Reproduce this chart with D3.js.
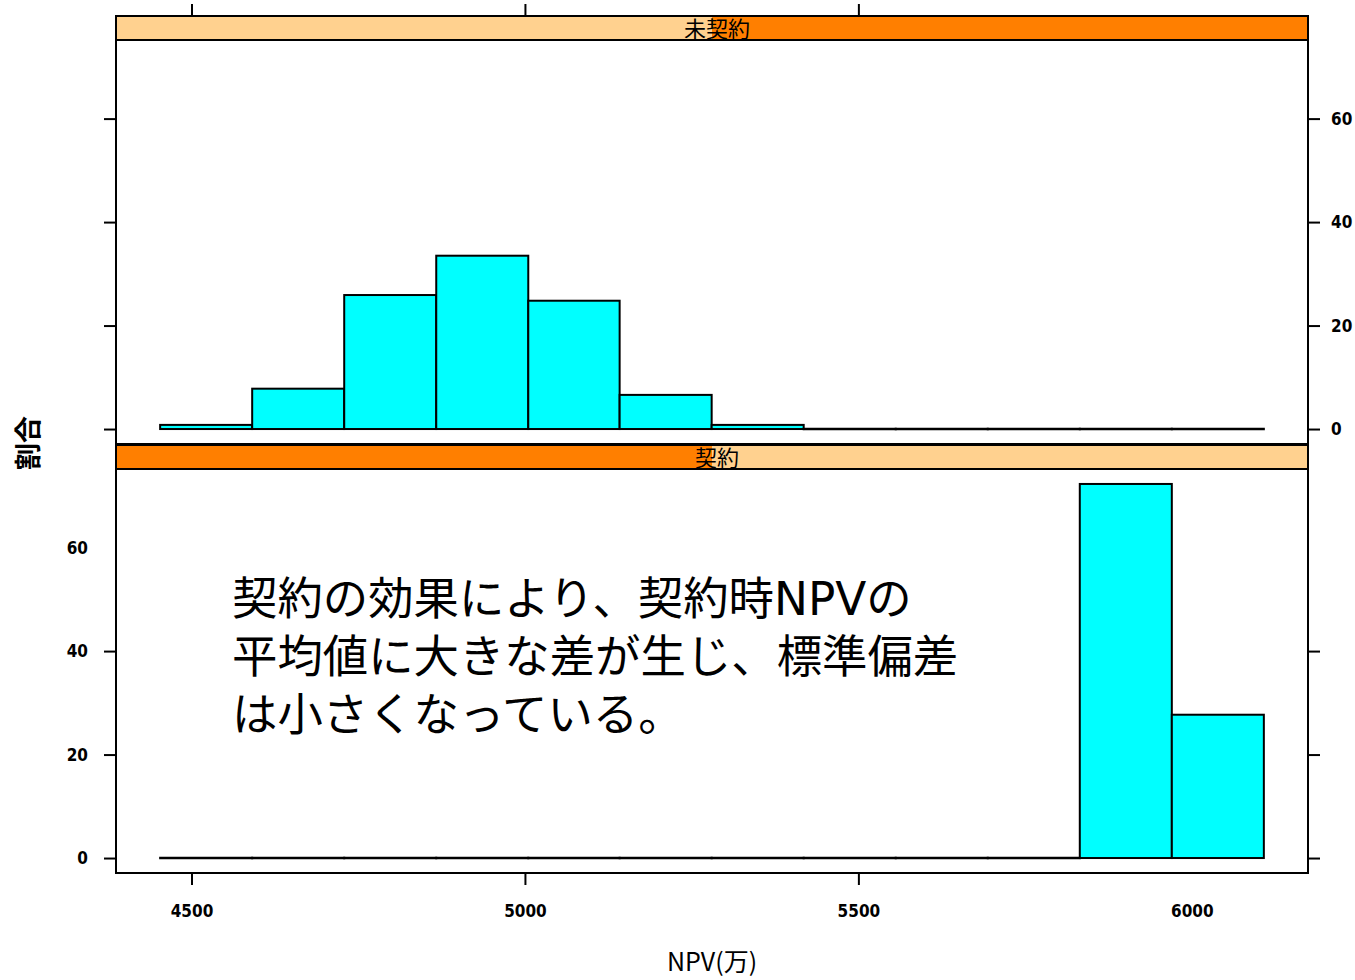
<!DOCTYPE html>
<html>
<head>
<meta charset="utf-8">
<script src="https://cdn.jsdelivr.net/npm/d3@7/dist/d3.min.js"></script>
<style>
  html, body { margin: 0; padding: 0; background: #ffffff; }
  svg { display: block; }
  .tick text { font-family: "DejaVu Sans Condensed", "DejaVu Sans", sans-serif; font-weight: bold; font-stretch: condensed; }
</style>
</head>
<body>
<svg id="chart" width="1355" height="980"></svg>
<script>
// Histogram bin edges (NPV, 万円) shared by both panels
const breaks = [4453, 4591, 4729, 4867, 5005, 5142, 5280, 5418, 5556, 5694, 5832, 5970, 6108];

// Percent of observations per bin
const pctUnsigned = [0.8, 7.8, 25.9, 33.5, 24.8, 6.6, 0.8, 0, 0, 0, 0, 0];   // 未契約
const pctSigned   = [0, 0, 0, 0, 0, 0, 0, 0, 0, 0, 72.3, 27.7];               // 契約

// Panel titles
const panelLabels = ["未契約", "契約"];

// Axis ticks
const xTickLabels = [4500, 5000, 5500, 6000];
const xTickMarks  = [4500, 5000, 5500];
const yTickLabels = [0, 20, 40, 60];
const yTickMarksTop = [0, 20, 40, 60];
const yTickMarksBottom = [0, 20, 40];

// Annotation
const noteLines = [
  "契約の効果により、契約時NPVの",
  "平均値に大きな差が生じ、標準偏差",
  "は小さくなっている。"
];

const svg = d3.select("#chart");
svg.append("rect").attr("width", 1355).attr("height", 980).attr("fill", "#ffffff");

const left = 116, right = 1308;
const stripH = 24;
const panels = [
  { label: panelLabels[0], level: 2, values: pctUnsigned, stripTop: 16, top: 40, bottom: 444 },
  { label: panelLabels[1], level: 1, values: pctSigned,   stripTop: 445, top: 469, bottom: 873 }
];

// x scale: bin range padded by 4%
const xLo = breaks[0], xHi = breaks[breaks.length - 1];
const xPad = (xHi - xLo) * 0.04;
const x = d3.scaleLinear().domain([xLo - xPad, xHi + xPad]).range([left, right]);

// y domain: 0..max padded by 4%
const yMax = d3.max(pctUnsigned.concat(pctSigned));
const yDomain = [-yMax * 0.04, yMax * 1.04];

const bins = breaks.slice(0, -1).map((b, i) => ({ x0: b, x1: breaks[i + 1] }));

const fontCJK = "'Noto Sans CJK JP', 'Noto Sans CJK SC', sans-serif";

panels.forEach((p, pi) => {
  const y = d3.scaleLinear().domain(yDomain).range([p.bottom, p.top]);
  const g = svg.append("g");
  const data = bins.map((b, i) => ({ ...b, v: p.values[i] }));

  // bars with a positive count
  g.selectAll("rect.bar")
    .data(data.filter(d => d.v > 0))
    .join("rect")
    .attr("class", "bar")
    .attr("x", d => x(d.x0))
    .attr("width", d => x(d.x1) - x(d.x0))
    .attr("y", d => y(d.v))
    .attr("height", d => y(0) - y(d.v))
    .attr("fill", "#00ffff")
    .attr("stroke", "#000000")
    .attr("stroke-width", 2);

  // empty bins collapse to a line on the baseline
  g.selectAll("line.empty")
    .data(data.filter(d => d.v === 0))
    .join("line")
    .attr("class", "empty")
    .attr("x1", d => x(d.x0) - 1)
    .attr("x2", d => x(d.x1) + 1)
    .attr("y1", y(0)).attr("y2", y(0))
    .attr("stroke", "#000")
    .attr("stroke-width", 2.5);

  // panel frame
  g.append("rect")
    .attr("x", left).attr("y", p.top)
    .attr("width", right - left).attr("height", p.bottom - p.top)
    .attr("fill", "none").attr("stroke", "#000").attr("stroke-width", 2);

  // strip: background with level highlighted
  const mid = (left + right) / 2;
  g.append("rect")
    .attr("x", left).attr("y", p.stripTop)
    .attr("width", right - left).attr("height", stripH)
    .attr("fill", "#ffd18f");
  g.append("rect")
    .attr("x", p.level === 1 ? left : mid).attr("y", p.stripTop)
    .attr("width", (right - left) / 2).attr("height", stripH)
    .attr("fill", "#ff7f00");
  g.append("rect")
    .attr("x", left).attr("y", p.stripTop)
    .attr("width", right - left).attr("height", stripH)
    .attr("fill", "none").attr("stroke", "#000").attr("stroke-width", 2);
  g.append("text")
    .attr("x", mid + 5).attr("y", p.stripTop + 21)
    .attr("text-anchor", "middle")
    .attr("font-family", fontCJK)
    .attr("font-size", 22)
    .attr("fill", "#000")
    .text(p.label);

  // y axes
  const marks = pi === 0 ? yTickMarksTop : yTickMarksBottom;
  const yLeft = d3.axisLeft(y).tickValues(yTickLabels).tickSize(12).tickPadding(16)
    .tickFormat(pi === 1 ? d3.format("d") : () => "");
  const yRight = d3.axisRight(y).tickValues(yTickLabels).tickSize(12).tickPadding(11)
    .tickFormat(pi === 0 ? d3.format("d") : () => "");
  [[yLeft, left], [yRight, right]].forEach(([ax, xp]) => {
    const a = g.append("g").attr("transform", `translate(${xp},0)`).call(ax);
    a.select(".domain").remove();
    a.selectAll(".tick line")
      .attr("stroke", "#000").attr("stroke-width", 2)
      .attr("opacity", d => marks.includes(d) ? 1 : 0);
    a.selectAll(".tick text").attr("font-size", 17).attr("fill", "#000");
  });
});

// x axes: ticks on top of the upper strip, labels below the lower panel
const xTop = d3.axisTop(x).tickValues(xTickLabels).tickSize(12).tickFormat(() => "");
const aTop = svg.append("g").attr("transform", `translate(0,${panels[0].stripTop})`).call(xTop);
aTop.select(".domain").remove();
aTop.selectAll(".tick line").attr("stroke", "#000").attr("stroke-width", 2)
  .attr("opacity", d => xTickMarks.includes(d) ? 1 : 0);

const xBot = d3.axisBottom(x).tickValues(xTickLabels).tickSize(12).tickPadding(20).tickFormat(d3.format("d"));
const aBot = svg.append("g").attr("transform", `translate(0,${panels[1].bottom})`).call(xBot);
aBot.select(".domain").remove();
aBot.selectAll(".tick line").attr("stroke", "#000").attr("stroke-width", 2)
  .attr("opacity", d => xTickMarks.includes(d) ? 1 : 0);
aBot.selectAll(".tick text").attr("font-size", 17).attr("fill", "#000");

// axis titles
svg.append("text")
  .attr("x", 712).attr("y", 971)
  .attr("text-anchor", "middle")
  .attr("font-family", fontCJK)
  .attr("font-size", 25)
  .attr("fill", "#000")
  .text("NPV(万)");

svg.append("text")
  .attr("transform", "translate(38,443) rotate(-90)")
  .attr("text-anchor", "middle")
  .attr("font-family", fontCJK)
  .attr("font-size", 27)
  .attr("font-weight", "bold")
  .attr("fill", "#000")
  .text("割合");

// annotation
svg.append("g")
  .selectAll("text")
  .data(noteLines)
  .join("text")
  .attr("font-family", "'DejaVu Sans', " + fontCJK)
  .attr("font-size", 45.4)
  .attr("fill", "#000")
  .attr("x", 232)
  .attr("y", (d, i) => 615 + i * 58)
  .text(d => d);
</script>
</body>
</html>
